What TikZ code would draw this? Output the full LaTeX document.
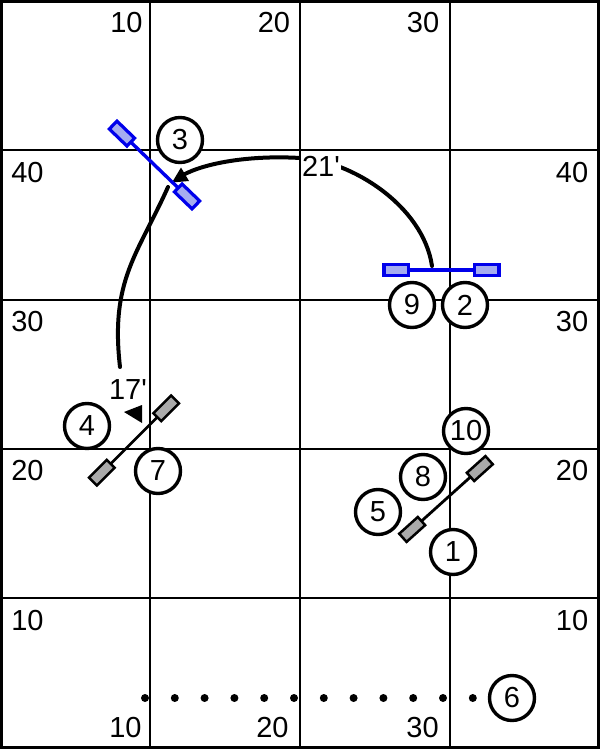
\documentclass[tikz,border=0pt]{standalone}
\usepackage{fontspec}
\setmainfont{Liberation Sans}
\newcommand\fsz{\fontsize{29}{29}\selectfont}
\definecolor{barblue}{RGB}{0,0,235}
\definecolor{blockblue}{RGB}{165,172,240}
\definecolor{blockgray}{RGB}{170,170,170}
\begin{document}
\begin{tikzpicture}[x=1pt,y=-1pt,
  numc/.style={circle,draw,fill=white,line width=3.4pt,minimum size=45pt,inner sep=0pt,font=\fsz},
  lab/.style={font=\fsz,inner sep=0pt},
  dist/.style={font=\fsz,inner sep=1.5pt,fill=white},
  gridline/.style={line width=1.1pt},
  course/.style={line width=4pt,line cap=round},
  dotc/.style={circle,fill=black,inner sep=0pt,minimum size=8pt},
  bluebar/.pic={
    \draw[barblue,line width=3.4pt] (-57.5,0) -- (57.5,0);
    \draw[barblue,line width=3.2pt,fill=blockblue] (-57.5,-5.5) rectangle (-33,5.5);
    \draw[barblue,line width=3.2pt,fill=blockblue] (33,-5.5) rectangle (57.5,5.5);
  },
  graybar/.pic={
    \draw[black,line width=2.8pt] (-58,0) -- (58,0);
    \draw[black,line width=2.5pt,fill=blockgray] (-58,-5.5) rectangle (-33,5.5);
    \draw[black,line width=2.5pt,fill=blockgray] (33,-5.5) rectangle (58,5.5);
  }]
\useasboundingbox (0,0) rectangle (600,749);
% grid
\foreach \gx in {150,300,450} \draw[gridline] (\gx,0) -- (\gx,749);
\foreach \gy in {150,300,449,598} \draw[gridline] (0,\gy) -- (600,\gy);
\draw[line width=2.8pt] (1.4,1.4) rectangle (598.6,747.6);
% axis labels
\node[lab] (t10) at (126.5,23) {10};
\node[lab] (t20) at (274,23) {20};
\node[lab] (t30) at (423,23) {30};
\node[lab] (b10) at (125.5,728) {10};
\node[lab] (b20) at (272.5,728) {20};
\node[lab] (b30) at (422.5,728) {30};
\node[lab] (l40) at (27.5,172.5) {40};
\node[lab] (l30) at (27.5,322) {30};
\node[lab] (l20) at (27.5,471) {20};
\node[lab] (l10) at (27.5,621) {10};
\node[lab] (r40) at (572,172.5) {40};
\node[lab] (r30) at (572,322) {30};
\node[lab] (r20) at (572,471) {20};
\node[lab] (r10) at (572,621) {10};
% course path
\coordinate (pstart) at (432,266);
\coordinate (ptop) at (300,158);
\coordinate (ptip) at (183,175);
\draw[course] (pstart) .. controls (423,205) and (350,160) .. (ptop)
  .. controls (250,155) and (205,163) .. (ptip);
\fill (172,182.5) -- (181,167.5) -- (189,181) -- cycle;
\node[dist] (d21) at (321,166) {21\textquotesingle};
\coordinate (qstart) at (168,187);
\coordinate (qend) at (120,367);
\draw[course] (qstart) .. controls (138,254) and (110,280) .. (qend);
\node[dist] (d17) at (128,390) {17\textquotesingle};
\fill (124,412) -- (142,405) -- (142,423) -- cycle;
% obstacles
\pic at (154.5,165) [rotate=-44] {bluebar};
\pic at (441.5,270) {bluebar};
\pic at (134,440.5) [rotate=45] {graybar};
\pic at (446,499) [rotate=42] {graybar};
% dots
\foreach \i in {0,...,11} \node[dotc] (dot\i) at ({145+29.8*\i},698) {};
% numbered circles
\node[numc] (n3) at (180,140) {3};
\node[numc] (n9) at (412,305) {9};
\node[numc] (n2) at (465,305) {2};
\node[numc] (n4) at (87,426) {4};
\node[numc] (n7) at (158,471) {7};
\node[numc] (n10) at (466,431) {10};
\node[numc] (n8) at (423,477) {8};
\node[numc] (n5) at (378,512) {5};
\node[numc] (n1) at (453,552) {1};
\node[numc] (n6) at (512,698) {6};
\end{tikzpicture}
\end{document}
